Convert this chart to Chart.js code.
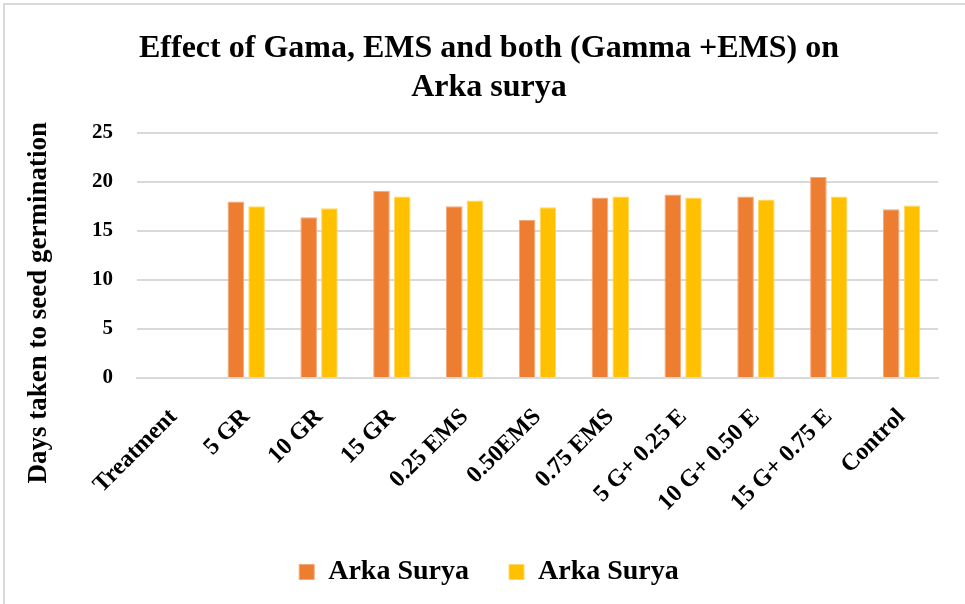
<!DOCTYPE html>
<html>
<head>
<meta charset="utf-8">
<script src="https://cdn.jsdelivr.net/npm/chart.js@4"></script>
<style>
  html, body { margin: 0; padding: 0; background: #fff; overflow: hidden; }
  .frame {
    position: absolute; left: 3px; top: 3px;
    width: 968px; height: 620px;
    border-left: 2px solid #d9d9d9; border-top: 2px solid #d9d9d9;
  }
  .frame canvas { position: absolute; left: 0; top: 0; }
</style>
</head>
<body>
<div class="frame">
  <canvas id="germ-chart" width="968" height="600"></canvas>
</div>
<script>
const treatments = [
  "Treatment", "5 GR", "10 GR", "15 GR", "0.25 EMS", "0.50EMS",
  "0.75 EMS", "5 G+ 0.25 E", "10 G+ 0.50 E", "15 G+ 0.75 E", "Control",
];
const arkaSurya1 = [null, 18.0, 16.4, 19.1, 17.5, 16.1, 18.4, 18.7, 18.5, 20.5, 17.2];
const arkaSurya2 = [null, 17.5, 17.3, 18.5, 18.1, 17.4, 18.5, 18.4, 18.2, 18.5, 17.6];
const yTicks = [0, 5, 10, 15, 20, 25];

const serif = "'Liberation Serif', 'Times New Roman', serif";
const yTitle = "Days taken to seed germination";

// y-axis title drawn by hand so it can sit centred on the whole left side
const yTitlePlugin = {
  id: "yTitle",
  afterDraw(chart) {
    const { ctx, chartArea } = chart;
    ctx.save();
    ctx.translate(34, chartArea.top + 170);
    ctx.rotate(-Math.PI / 2);
    ctx.font = "bold 27px " + serif;
    ctx.fillStyle = "#000";
    ctx.textAlign = "center";
    ctx.textBaseline = "middle";
    ctx.fillText(yTitle, 0, 0);
    ctx.restore();
  },
};

const ctx = document.getElementById("germ-chart").getContext("2d");
new Chart(ctx, {
  type: "bar",
  data: {
    labels: treatments,
    datasets: [
      {
        label: "Arka Surya",
        data: arkaSurya1,
        backgroundColor: "#ED7D31",
        borderColor: "#F4A97A",
        borderWidth: 1,
      },
      {
        label: "Arka Surya",
        data: arkaSurya2,
        backgroundColor: "#FFC000",
        borderColor: "#FFD866",
        borderWidth: 1,
      },
    ],
  },
  options: {
    responsive: false,
    animation: false,
    layout: { padding: { left: 35, right: 35, top: 25, bottom: 9 } },
    datasets: {
      bar: { categoryPercentage: 0.57, barPercentage: 0.8 },
    },
    plugins: {
      title: {
        display: true,
        text: ["Effect of Gama, EMS and both (Gamma +EMS) on", "Arka surya"],
        color: "#000",
        font: { family: serif, size: 32, weight: "bold", lineHeight: 1.2 },
        padding: { top: 0, bottom: 26 },
      },
      legend: {
        position: "bottom",
        labels: {
          color: "#000",
          boxWidth: 15,
          boxHeight: 15,
          padding: 40,
          font: { family: serif, size: 28, weight: "bold", lineHeight: 1 },
        },
      },
      tooltip: { enabled: false },
    },
    scales: {
      x: {
        afterFit(scale) {
          // labels hang a bit lower than their reserved room, as in the source
          scale.height -= 24;
        },
        grid: { display: false, drawTicks: false },
        border: { color: "#d9d9d9", width: 2 },
        ticks: {
          color: "#000",
          minRotation: 45,
          maxRotation: 45,
          padding: 25,
          font: { family: serif, size: 24, weight: "bold" },
        },
      },
      y: {
        min: 0,
        max: 25,
        afterBuildTicks(scale) {
          scale.ticks = yTicks.map((v) => ({ value: v }));
        },
        afterFit(scale) {
          scale.width = 97;
        },
        grid: { color: "#d9d9d9", lineWidth: 2, drawTicks: false },
        border: { display: false },
        ticks: {
          color: "#000",
          padding: 24,
          font: { family: serif, size: 21, weight: "bold" },
        },
      },
    },
  },
  plugins: [yTitlePlugin],
});
</script>
</body>
</html>
